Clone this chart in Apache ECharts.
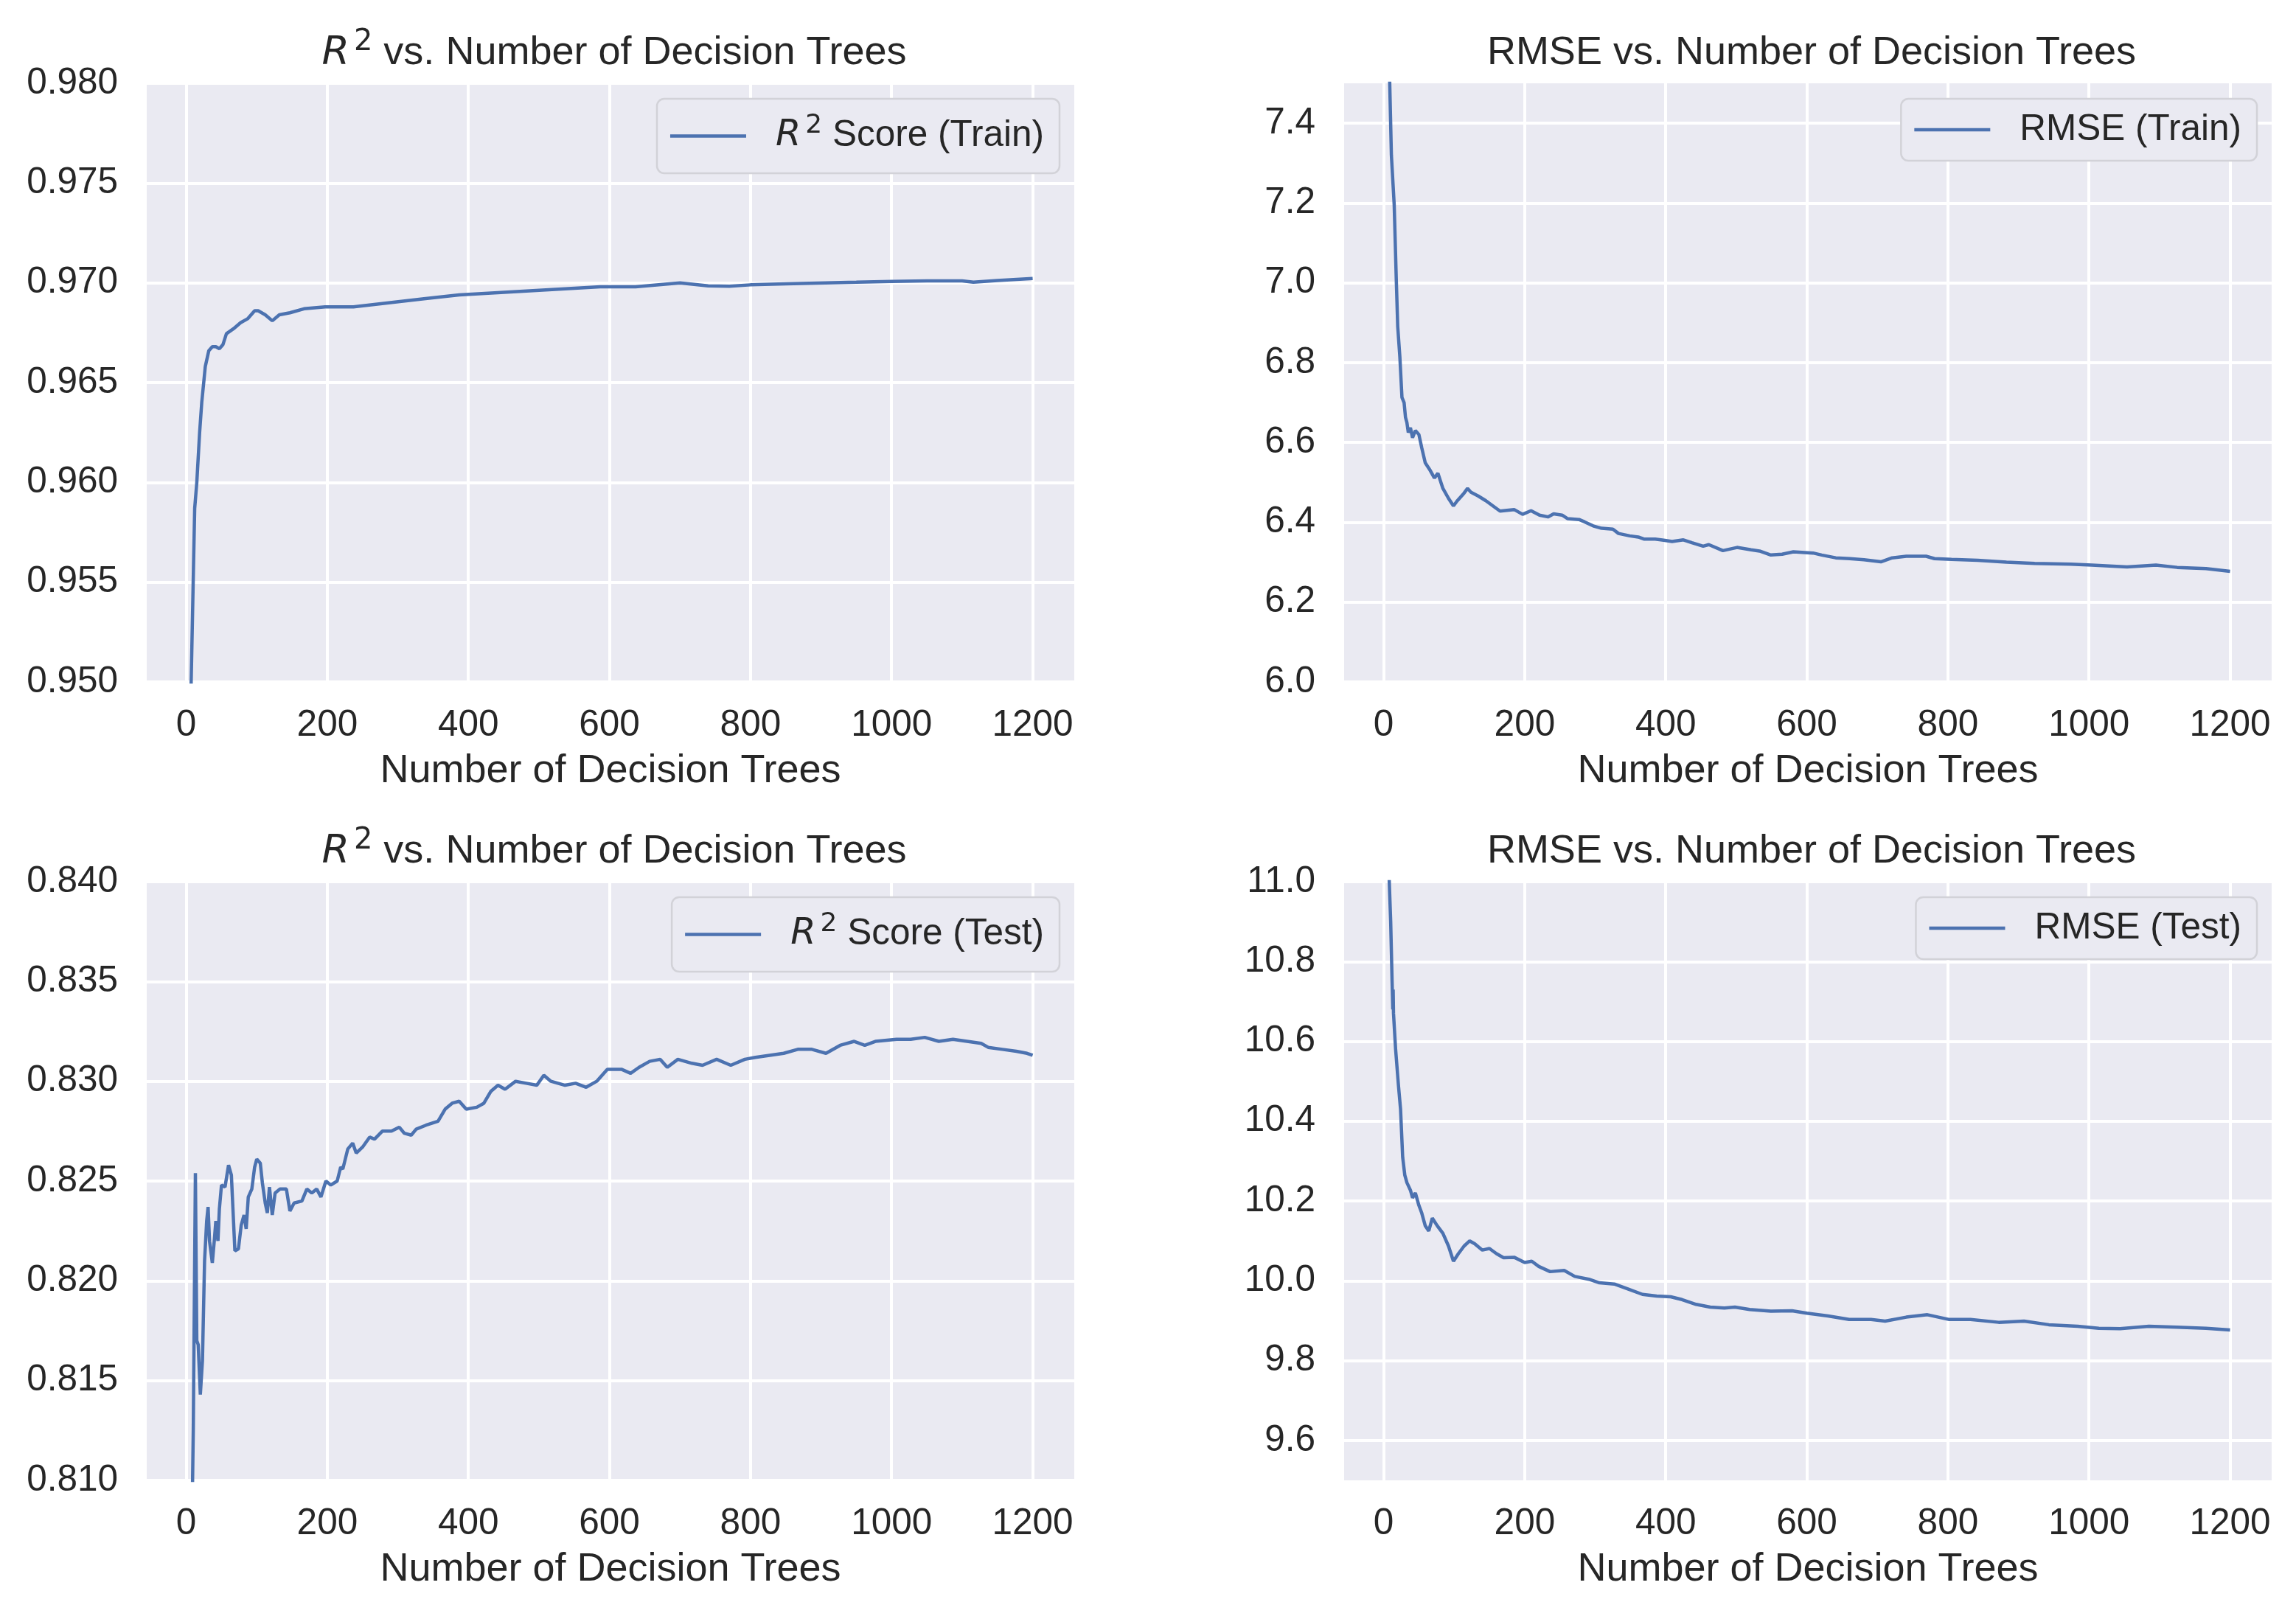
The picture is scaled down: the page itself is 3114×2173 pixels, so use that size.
<!DOCTYPE html>
<html>
<head>
<meta charset="utf-8">
<script src="https://cdn.jsdelivr.net/npm/echarts@6/dist/echarts.min.js"></script>
<style>
html,body{margin:0;padding:0;background:#ffffff;}
#chart{width:3114px;height:2173px;}
</style>
</head>
<body>
<div id="chart"></div>
<script>
// ---------------- data ----------------
const xTicks = [0, 200, 400, 600, 800, 1000, 1200];
const r2TrainTicks = [0.950, 0.955, 0.960, 0.965, 0.970, 0.975, 0.980];
const rmseTrainTicks = [6.0, 6.2, 6.4, 6.6, 6.8, 7.0, 7.2, 7.4];
const r2TestTicks = [0.810, 0.815, 0.820, 0.825, 0.830, 0.835, 0.840];
const rmseTestTicks = [9.6, 9.8, 10.0, 10.2, 10.4, 10.6, 10.8, 11.0];

const r2TrainX = [5, 7, 12, 15, 19, 22, 27, 32, 37, 42, 47, 52, 57, 67, 77, 87, 97, 102, 112, 122, 132, 147, 167, 197, 237, 287, 337, 387, 437, 487, 537, 587, 637, 700, 740, 770, 800, 850, 906, 950, 1000, 1050, 1100, 1116, 1150, 1200];
const r2TrainY = [0.938, 0.950, 0.9587, 0.9600, 0.9625, 0.9640, 0.9658, 0.9666, 0.9668, 0.9668, 0.9667, 0.9669, 0.96745, 0.9677, 0.9680, 0.9682, 0.9686, 0.9686, 0.9684, 0.9681, 0.9684, 0.9685, 0.9687, 0.9688, 0.9688, 0.9690, 0.9692, 0.9694, 0.9695, 0.9696, 0.9697, 0.9698, 0.9698, 0.9700, 0.96985, 0.96983, 0.9699, 0.96995, 0.9700, 0.97003, 0.97007, 0.9701, 0.9701, 0.97003, 0.97012, 0.97022];

const rmseTrainX = [5, 8, 11, 15, 18, 20, 23, 26, 29, 31, 33, 35, 38, 41, 45, 50, 54, 59, 66, 72, 77, 84, 92, 99, 104, 114, 119, 124, 134, 145, 155, 165, 185,
  197, 209, 221, 233, 241, 253, 261, 277, 285, 297, 309, 325, 333, 349, 361, 369, 385, 397, 409, 425, 437, 453, 461, 481, 501, 521, 533, 549, 565, 581, 609, 621, 641, 661, 681, 705, 721, 741, 769, 781, 805,
  842, 883, 923, 974, 1004, 1054, 1095, 1125, 1166, 1200];
const rmseTrainY = [8.4, 7.55, 7.32, 7.195, 7.005, 6.89, 6.815, 6.713, 6.70, 6.663, 6.65, 6.625, 6.637, 6.612, 6.63, 6.62, 6.587, 6.549, 6.53, 6.511, 6.523, 6.485, 6.46, 6.441, 6.453, 6.473, 6.485, 6.475, 6.466, 6.454, 6.441, 6.428, 6.432,
  6.420, 6.429, 6.418, 6.4135, 6.421, 6.418, 6.409, 6.407, 6.401, 6.391, 6.385, 6.383, 6.372, 6.366, 6.363, 6.358, 6.358, 6.355, 6.352, 6.356, 6.349, 6.340, 6.344, 6.329, 6.337, 6.331, 6.328, 6.318, 6.320, 6.326, 6.323, 6.318, 6.311, 6.309, 6.306, 6.301, 6.311, 6.315, 6.315, 6.309, 6.307,
  6.305, 6.300, 6.297, 6.295, 6.293, 6.288, 6.293, 6.287, 6.284, 6.277];

const r2TestX = [5, 10, 13, 15, 17, 20, 23, 26, 29, 31, 33, 37, 40, 42, 45, 47, 50, 55, 60, 64, 69, 74, 78, 82, 85, 88, 93, 97, 100, 105, 108, 112, 115, 118, 122, 126, 133, 142, 147, 153, 164, 171, 178, 185, 191, 198, 205, 214, 219, 222, 229, 236, 241, 250, 260, 267, 278, 291, 302, 309, 319, 326, 340, 357, 367, 377, 387, 397, 412, 422, 432, 442, 452, 467, 482, 497, 507, 517, 537, 552, 567, 582, 597, 617, 630, 642, 657, 672, 682, 697, 717, 732, 752, 772, 792, 807, 827, 847, 867, 887, 907, 927, 947, 962, 977, 1007, 1027, 1047, 1067, 1087, 1107, 1127, 1137, 1157, 1177, 1192, 1200];
const r2TestY = [0.800, 0.8125, 0.8254, 0.8170, 0.8168, 0.8143, 0.8160, 0.8210, 0.8230, 0.8237, 0.8220, 0.8209, 0.8221, 0.8230, 0.8220, 0.8236, 0.8248, 0.8247, 0.8258, 0.8253, 0.8215, 0.8216, 0.8228, 0.8233, 0.8226, 0.8242, 0.8246, 0.8257, 0.8261, 0.8259, 0.8249, 0.8239, 0.8234, 0.8247, 0.8233, 0.8244, 0.8246, 0.8246, 0.8235, 0.8239, 0.8240, 0.8246, 0.8244, 0.8246, 0.8242, 0.8250, 0.8248, 0.8250, 0.8257, 0.8256, 0.8266, 0.8269, 0.8264, 0.8267, 0.8272, 0.8271, 0.8275, 0.8275, 0.8277, 0.8274, 0.8273, 0.8276, 0.8278, 0.8280, 0.8286, 0.8289, 0.8290, 0.8286, 0.8287, 0.8289, 0.8295, 0.8298, 0.8296, 0.8300, 0.8299, 0.8298, 0.8303, 0.8300, 0.8298, 0.8299, 0.8297, 0.8300, 0.8306, 0.8306, 0.8304, 0.8307, 0.8310, 0.8311, 0.8307, 0.8311, 0.8309, 0.8308, 0.8311, 0.8308, 0.8311, 0.8312, 0.8313, 0.8314, 0.8316, 0.8316, 0.8314, 0.8318, 0.8320, 0.8318, 0.8320, 0.8321, 0.8321, 0.8322, 0.8320, 0.8321, 0.8320, 0.8319, 0.8317, 0.8316, 0.8315, 0.8314, 0.8313];

const rmseTestX = [5, 8, 10, 12, 13, 13.5, 14, 17, 21, 24, 27, 30, 33, 38, 41, 45, 50, 54, 59, 64, 69, 76, 84, 92, 99, 106, 114, 122, 129, 140, 150, 160, 170, 185, 200, 210, 220, 236, 256, 271, 291, 306, 327, 347, 367, 387, 407, 423, 443, 463, 483, 498, 519, 549, 579, 600, 630, 660, 691, 711, 741, 771, 802, 832, 872, 908, 943, 984, 1014, 1044, 1085, 1125, 1166, 1200];
const rmseTestY = [11.6, 11.0, 10.9, 10.75, 10.68, 10.73, 10.67, 10.58, 10.49, 10.43, 10.31, 10.265, 10.246, 10.227, 10.208, 10.22, 10.189, 10.17, 10.138, 10.125, 10.157, 10.138, 10.119, 10.087, 10.049, 10.068, 10.087, 10.1, 10.093, 10.077, 10.081, 10.068, 10.058, 10.059, 10.046, 10.049, 10.036, 10.023, 10.026, 10.011, 10.004, 9.995, 9.992, 9.979, 9.966, 9.962, 9.96, 9.953, 9.941, 9.934, 9.932, 9.934, 9.928, 9.924, 9.925, 9.919, 9.912, 9.903, 9.903, 9.899, 9.909, 9.915, 9.903, 9.903, 9.896, 9.899, 9.89, 9.886, 9.881, 9.88, 9.886, 9.884, 9.881, 9.877];

// ---------------- styling ----------------
const FONT = '"Liberation Sans", Arial, sans-serif';
const MATH = '"DejaVu Sans", sans-serif';
const TXT = '#262626';
const BLUE = '#4C72B0';
const BG = '#EAEAF2';

const panels = [
  {left: 199,  top: 113,  title: '{i|R}{s|2}{t| vs. Number of Decision Trees}', name: 'R2 Score (Train)', legendText: '{i|R}{s|2}{t| Score (Train)}', yMin: 0.950, yMax: 0.980, ticks: r2TrainTicks, dec: 3, xs: r2TrainX, ys: r2TrainY, sup: true},
  {left: 1823, top: 113,  title: 'RMSE vs. Number of Decision Trees', name: 'RMSE (Train)', legendText: 'RMSE (Train)', yMin: 6.0, yMax: 7.5, ticks: rmseTrainTicks, dec: 1, xs: rmseTrainX, ys: rmseTrainY, sup: false},
  {left: 199,  top: 1196, title: '{i|R}{s|2}{t| vs. Number of Decision Trees}', name: 'R2 Score (Test)', legendText: '{i|R}{s|2}{t| Score (Test)}', yMin: 0.810, yMax: 0.840, ticks: r2TestTicks, dec: 3, xs: r2TestX, ys: r2TestY, sup: true},
  {left: 1823, top: 1196, title: 'RMSE vs. Number of Decision Trees', name: 'RMSE (Test)', legendText: 'RMSE (Test)', yMin: 9.5, yMax: 11.0, ticks: rmseTestTicks, dec: 1, xs: rmseTestX, ys: rmseTestY, sup: false}
];
const W = 1258, H = 812;

function richFor(size, lh, supSize) {
  return {
    i: {fontFamily: MATH, fontStyle: 'italic', fontSize: size, color: TXT, lineHeight: lh},
    s: {fontFamily: MATH, fontSize: supSize, color: TXT, verticalAlign: 'top', lineHeight: supSize, padding: [0, 0, 0, 6]},
    t: {fontFamily: FONT, fontSize: size, color: TXT, lineHeight: lh}
  };
}

const option = {
  backgroundColor: '#ffffff',
  animation: false,
  grid: [], xAxis: [], yAxis: [], series: [], title: [], legend: []
};

panels.forEach((p, i) => {
  option.grid.push({left: p.left, top: p.top, width: W, height: H, show: true, backgroundColor: BG, borderWidth: 0, containLabel: false, outerBoundsMode: 'none'});
  option.xAxis.push({
    type: 'value', gridIndex: i, min: -56, max: 1259,
    axisLine: {show: false},
    axisTick: {show: false, customValues: xTicks},
    axisLabel: {customValues: xTicks, fontSize: 49.5, color: TXT, fontFamily: FONT, margin: 34,
      formatter: v => String(Math.round(v))},
    splitLine: {show: true, lineStyle: {color: '#ffffff', width: 4}},
    name: 'Number of Decision Trees', nameLocation: 'middle', nameGap: 94,
    nameTextStyle: {fontSize: 54, color: TXT, fontFamily: FONT}
  });
  option.yAxis.push({
    type: 'value', gridIndex: i, min: p.yMin, max: p.yMax,
    axisLine: {show: false},
    axisTick: {show: false, customValues: p.ticks},
    axisLabel: {customValues: p.ticks, fontSize: 49.5, color: TXT, fontFamily: FONT, margin: 39,
      formatter: v => Number(v).toFixed(p.dec)},
    splitLine: {show: true, lineStyle: {color: '#ffffff', width: 4}}
  });
  option.series.push({
    name: p.name, type: 'line', xAxisIndex: i, yAxisIndex: i,
    data: p.xs.map((x, k) => [x, p.ys[k]]),
    symbol: 'none', showSymbol: false, clip: true, smooth: false,
    lineStyle: {color: BLUE, width: 4.5}, itemStyle: {color: BLUE}, z: 5
  });
  option.title.push({
    text: p.title, left: p.left + W / 2, top: p.top - (p.sup ? 80.5 : 72.5), textAlign: 'center',
    textStyle: {fontSize: 54, fontFamily: FONT, color: TXT, fontWeight: 'normal', lineHeight: p.sup ? 70 : 54, rich: richFor(54, 70, 40)}
  });
  option.legend.push({
    data: [{name: p.name, icon: 'rect'}], right: 3114 - (p.left + W - 20), top: p.top + 21,
    orient: 'vertical',
    itemWidth: 103, itemHeight: 4.5,
    padding: p.sup ? [18.5, 21, 18.5, 18] : [17, 21, 17, 18],
    backgroundColor: BG, borderColor: '#D2D2D8', borderWidth: 2.5, borderRadius: 10,
    formatter: () => p.legendText,
    textStyle: {fontSize: 49.5, fontFamily: FONT, color: TXT, lineHeight: p.sup ? 64 : 49.5, padding: [0, 0, 0, 35], rich: richFor(49.5, 64, 36)}
  });
});

const chart = echarts.init(document.getElementById('chart'), null, {renderer: 'canvas', width: 3114, height: 2173});
chart.setOption(option);
</script>
</body>
</html>
